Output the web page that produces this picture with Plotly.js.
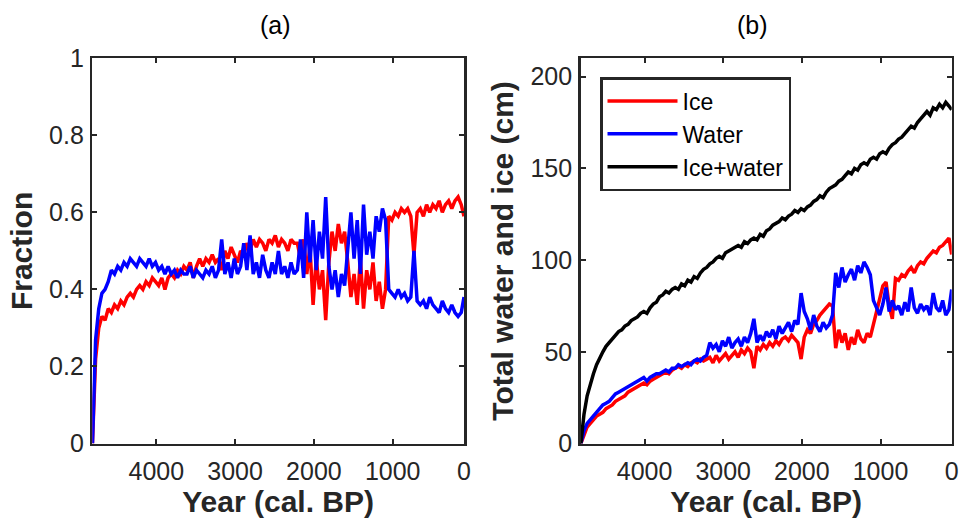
<!DOCTYPE html>
<html>
<head>
<meta charset="utf-8">
<script src="https://cdn.plot.ly/plotly-3.0.1.min.js"></script>
<style>html,body{margin:0;padding:0;background:#fff;}#chart{width:965px;height:525px;}</style>
</head>
<body>
<div id="chart"></div>
<script>
// Year (cal. BP)
var years = [
4810,4770,4730,4690,4650,4610,4570,4530,4490,4450,
4410,4370,4330,4290,4250,4210,4170,4130,4090,4050,
4010,3970,3930,3890,3850,3810,3770,3730,3690,3650,
3610,3570,3530,3490,3450,3410,3370,3330,3290,3250,
3210,3170,3130,3090,3050,3010,2970,2930,2890,2850,
2810,2770,2730,2690,2650,2610,2570,2530,2490,2450,
2410,2370,2330,2290,2250,2210,2170,2130,2090,2050,
2010,1970,1930,1890,1850,1810,1770,1730,1690,1650,
1610,1570,1530,1490,1450,1410,1370,1330,1290,1250,
1210,1170,1130,1090,1050,1010,970,930,890,850,
810,770,730,690,650,610,570,530,490,450,
410,370,330,290,250,210,170,130,95];

// (a) fractions
var iceFraction = [
0,0.22,0.30,0.33,0.32,0.35,0.34,0.36,0.35,0.37,
0.36,0.38,0.39,0.38,0.40,0.41,0.40,0.42,0.41,0.43,
0.42,0.41,0.43,0.40,0.43,0.44,0.43,0.45,0.44,0.46,
0.45,0.47,0.43,0.46,0.48,0.46,0.48,0.47,0.49,0.47,
0.48,0.45,0.50,0.48,0.51,0.49,0.47,0.50,0.49,0.52,
0.50,0.53,0.51,0.53,0.52,0.50,0.53,0.52,0.54,0.51,
0.53,0.52,0.50,0.53,0.52,0.52,0.48,0.53,0.44,0.51,
0.36,0.48,0.40,0.45,0.32,0.47,0.55,0.50,0.57,0.52,
0.55,0.47,0.38,0.44,0.36,0.48,0.35,0.45,0.40,0.47,
0.37,0.42,0.35,0.40,0.59,0.58,0.60,0.59,0.61,0.60,
0.61,0.59,0.49,0.60,0.61,0.59,0.62,0.60,0.62,0.61,
0.63,0.60,0.62,0.63,0.61,0.63,0.64,0.62,0.59];

var waterFraction = [
0,0.27,0.35,0.39,0.40,0.42,0.45,0.44,0.46,0.45,
0.47,0.46,0.48,0.47,0.46,0.48,0.47,0.46,0.48,0.46,
0.47,0.45,0.46,0.44,0.46,0.44,0.45,0.43,0.45,0.44,
0.44,0.46,0.43,0.45,0.44,0.43,0.45,0.44,0.46,0.43,
0.45,0.53,0.44,0.47,0.43,0.48,0.44,0.46,0.52,0.45,
0.54,0.44,0.47,0.43,0.49,0.45,0.43,0.47,0.44,0.50,
0.44,0.46,0.43,0.47,0.44,0.45,0.53,0.43,0.60,0.47,
0.58,0.45,0.55,0.48,0.64,0.46,0.40,0.45,0.38,0.44,
0.41,0.50,0.60,0.48,0.58,0.44,0.62,0.49,0.55,0.48,
0.59,0.55,0.61,0.58,0.40,0.39,0.38,0.40,0.38,0.39,
0.37,0.38,0.50,0.37,0.36,0.37,0.35,0.38,0.36,0.35,
0.34,0.37,0.35,0.34,0.36,0.34,0.33,0.34,0.38];

// (b) totals (cm)
var iceCm = [
0,5,9,11,13,15,16,17,19,20,
21,23,24,25,26,28,29,30,31,32,
33,32,34,35,36,37,38,39,38,40,
41,42,41,43,42,44,45,44,46,45,
46,47,44,48,45,47,49,46,48,50,
47,51,49,52,50,41,53,51,54,52,
55,53,56,54,57,58,56,59,57,55,
46,58,62,60,65,67,70,72,74,76,
75,52,62,55,60,51,58,54,62,57,
55,60,58,65,72,80,86,88,75,68,
90,89,92,91,94,96,93,97,99,98,
101,103,105,104,107,108,110,112,103];

var waterCm = [
0,7,11,13,15,17,19,21,22,23,
25,27,28,29,30,31,32,33,34,35,
36,34,36,37,38,38,39,40,39,41,
41,43,42,43,44,43,45,46,45,47,
48,55,52,54,50,56,53,58,52,55,
57,53,58,55,60,68,55,59,56,61,
58,62,57,64,60,63,66,61,67,65,
82,72,68,62,70,64,61,66,63,65,
70,93,85,96,88,92,95,89,97,93,
99,96,92,78,74,70,76,85,72,78,
73,75,70,77,72,85,74,71,76,73,
75,70,82,74,72,78,70,73,84];

var totalCm = [
0,16,26,33,38,43,47,50,53,55,
57,59,61,62,64,65,67,68,69,71,
72,71,74,76,77,80,81,83,82,84,
85,84,87,86,89,88,91,90,93,95,
96,98,99,101,102,101,104,105,106,107,
108,107,110,109,111,112,111,114,113,116,
117,119,120,121,123,122,124,125,127,126,
128,127,129,130,132,133,135,134,137,139,
140,141,143,144,146,148,147,150,149,152,
153,152,155,156,155,158,159,158,161,163,
164,166,167,169,171,173,172,175,177,179,
181,179,183,182,185,183,186,184,182];

var xTickVals = [4000,3000,2000,1000,95];
var xTickText = ['4000','3000','2000','1000','0'];
var fracTicks = [0,0.2,0.4,0.6,0.8,1];
var fracTickText = ['0','0.2','0.4','0.6','0.8','1'];
var cmTicks = [0,50,100,150,200];

var FONT = '"Liberation Sans", Arial, Helvetica, sans-serif';
var AX = '#262626';
var LW = 3.5;

function xax(domain, anchor) {
  return {
    domain: domain, anchor: anchor, range: [4812, 95],
    tickvals: xTickVals, ticktext: xTickText,
    ticks: 'inside', ticklen: 5, tickwidth: 2, tickcolor: AX,
    showline: true, linewidth: 2.5, linecolor: AX, mirror: 'ticks',
    showgrid: false, zeroline: false, ticklabelstandoff: 4,
    tickfont: {size: 25, color: AX, family: FONT},
    title: {text: '<b>Year (cal. BP)</b>', font: {size: 30, color: AX, family: FONT}, standoff: 2}
  };
}
function yax(domain, anchor, range, tv, tt, title) {
  var o = {
    domain: domain, anchor: anchor, range: range,
    tickvals: tv,
    ticks: 'inside', ticklen: 5, tickwidth: 2, tickcolor: AX,
    showline: true, linewidth: 2.5, linecolor: AX, mirror: 'ticks',
    showgrid: false, zeroline: false, ticklabelstandoff: 1,
    tickfont: {size: 25, color: AX, family: FONT},
    title: {text: '<b>' + title + '</b>', font: {size: 30, color: AX, family: FONT}, standoff: 8}
  };
  if (tt) o.ticktext = tt;
  return o;
}

var traces = [
  {x: years, y: iceFraction, xaxis: 'x', yaxis: 'y', mode: 'lines', line: {color: '#FF0000', width: LW}, showlegend: false},
  {x: years, y: waterFraction, xaxis: 'x', yaxis: 'y', mode: 'lines', line: {color: '#0000FF', width: LW}, showlegend: false},
  {x: years, y: iceCm, xaxis: 'x2', yaxis: 'y2', mode: 'lines', name: 'Ice', line: {color: '#FF0000', width: LW}},
  {x: years, y: waterCm, xaxis: 'x2', yaxis: 'y2', mode: 'lines', name: 'Water', line: {color: '#0000FF', width: LW}},
  {x: years, y: totalCm, xaxis: 'x2', yaxis: 'y2', mode: 'lines', name: 'Ice+water', line: {color: '#000000', width: LW}}
];

var yDom = [(525 - 443.5) / 525, (525 - 58.3) / 525];
var layout = {
  width: 965, height: 525,
  margin: {l: 0, r: 0, t: 0, b: 0},
  paper_bgcolor: '#fff', plot_bgcolor: '#fff',
  font: {family: FONT, color: AX},
  xaxis: xax([92.3 / 965, 464 / 965], 'y'),
  yaxis: yax(yDom, 'x', [0, 1], fracTicks, fracTickText, 'Fraction'),
  xaxis2: xax([580.7 / 965, 951.7 / 965], 'y2'),
  yaxis2: yax(yDom, 'x2', [0, 210], cmTicks, null, 'Total water and ice (cm)'),
  legend: {
    x: 600 / 965, y: (525 - 77) / 525, xanchor: 'left', yanchor: 'top',
    bgcolor: '#fff', bordercolor: AX, borderwidth: 2.5,
    font: {size: 23, color: '#000', family: FONT},
    itemwidth: 70, tracegroupgap: 0
  },
  annotations: [
    {text: '(a)', x: 275 / 965, y: (525 - 25) / 525, xref: 'paper', yref: 'paper', showarrow: false, xanchor: 'center', yanchor: 'middle', font: {size: 25, color: '#000', family: FONT}},
    {text: '(b)', x: 752 / 965, y: (525 - 25) / 525, xref: 'paper', yref: 'paper', showarrow: false, xanchor: 'center', yanchor: 'middle', font: {size: 25, color: '#000', family: FONT}}
  ]
};

Plotly.newPlot('chart', traces, layout, {displayModeBar: false, staticPlot: true});
</script>
</body>
</html>
